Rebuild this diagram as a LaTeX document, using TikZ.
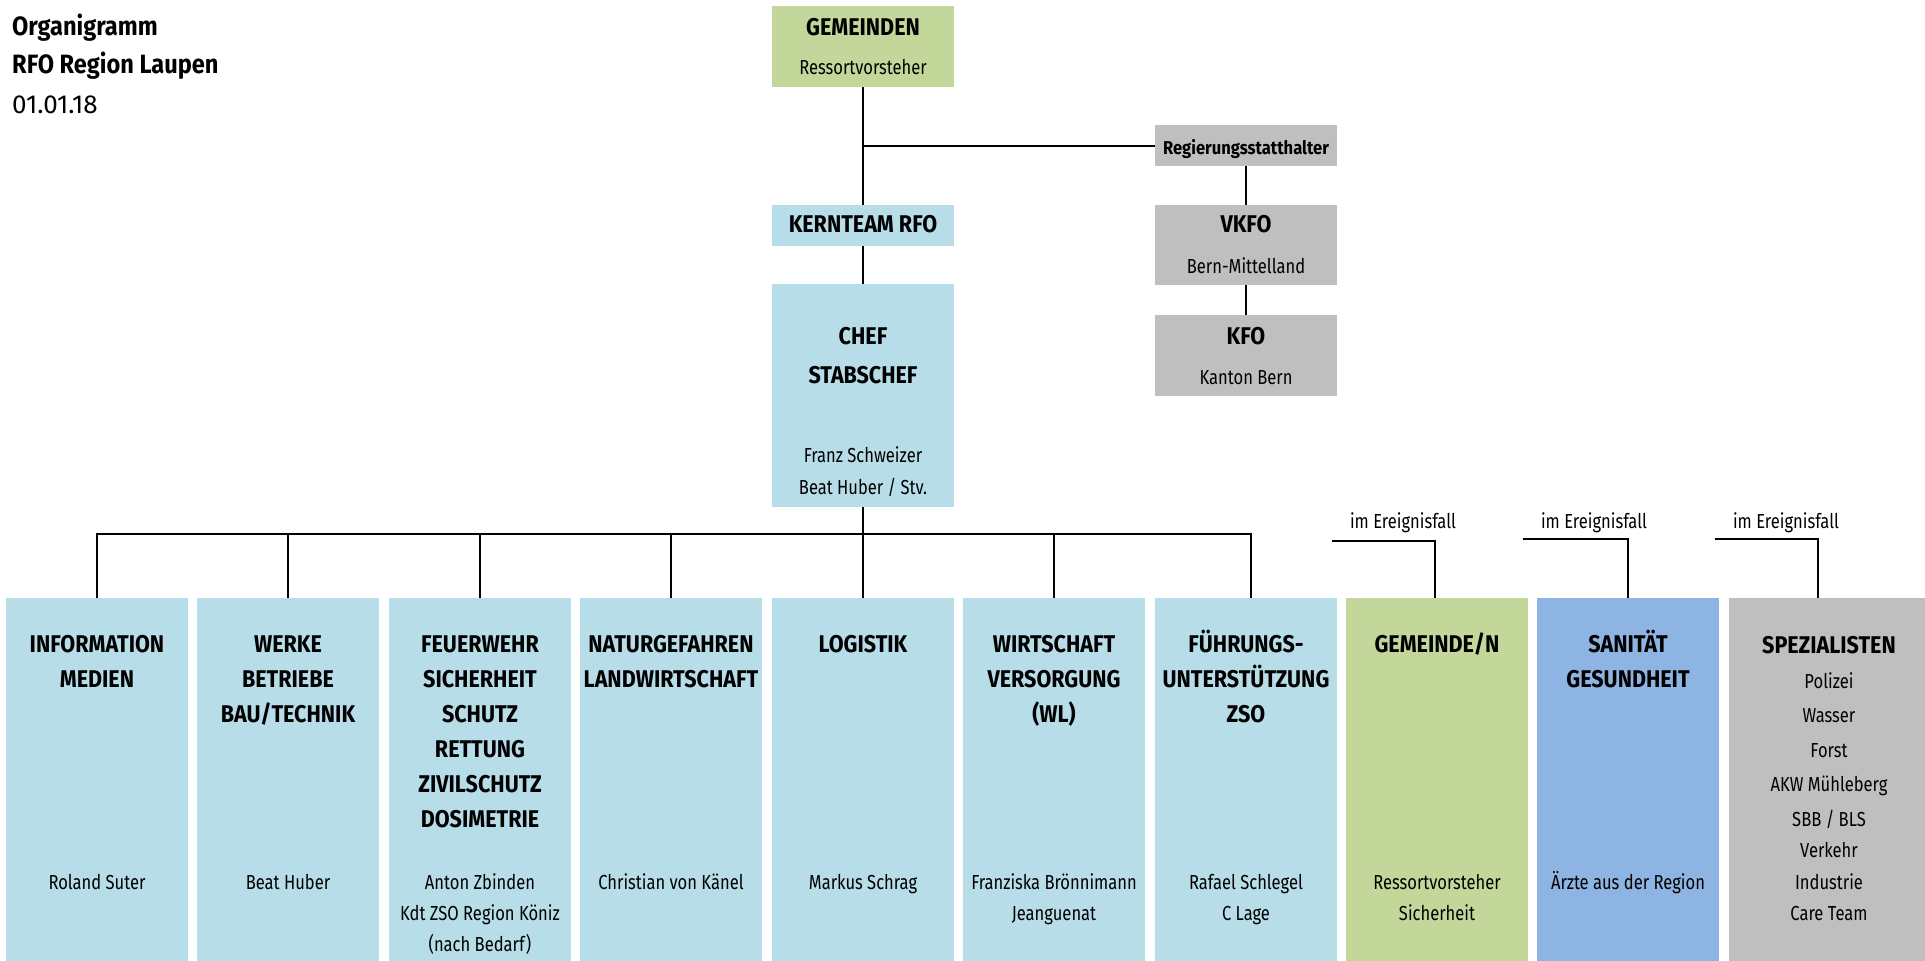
\documentclass[tikz,border=0pt]{standalone}
\usepackage{fontspec}
\setmainfont{Fira Sans}[FakeStretch=0.815]
\newfontfamily\hdfont{Fira Sans}[FakeStretch=0.89]
\newfontfamily\plainfont{Fira Sans}
\definecolor{cblue}{HTML}{B7DDE8}
\definecolor{cgreen}{HTML}{C4D79B}
\definecolor{cmid}{HTML}{8DB4E2}
\definecolor{cgray}{HTML}{BFBFBF}
\tikzset{
  orgbox/.style={rectangle, inner sep=0pt, outer sep=0pt, minimum width=182pt},
  hd/.style={anchor=base, align=center, inner sep=0pt, font=\hdfont\bfseries\fontsize{24.2}{35}\selectfont},
  nm/.style={anchor=base, align=center, inner sep=0pt, font=\fontsize{20.3}{31.3}\selectfont},
  conn/.style={line width=2pt, black},
}
\begin{document}
\begin{tikzpicture}[x=1pt, y=-1pt]
\useasboundingbox (0,0) rectangle (1925,961);
% title
\node[anchor=base west, inner sep=0pt, font=\hdfont\bfseries\fontsize{26.5}{30}\selectfont] (t1) at (12,35) {Organigramm};
\node[anchor=base west, inner sep=0pt, font=\hdfont\bfseries\fontsize{26.5}{30}\selectfont] (t2) at (12,73.3) {RFO Region Laupen};
\node[anchor=base west, inner sep=0pt, font=\plainfont\fontsize{26}{30}\selectfont] (t3) at (12,113.3) {01.01.18};
% top boxes
\node[orgbox, fill=cgreen, minimum height=81pt] (gem) at (863,46.5) {};
\node[hd] (gemh) at (863,35) {GEMEINDEN};
\node[nm] (gemn) at (863,74) {Ressortvorsteher};
\node[orgbox, fill=cblue, minimum height=41pt] (kern) at (863,225.5) {};
\node[hd] (kernh) at (863,232.7) {KERNTEAM RFO};
\node[orgbox, fill=cblue, minimum height=223pt] (chef) at (863,395.5) {};
\node[hd, font=\hdfont\bfseries\fontsize{24.2}{39.5}\selectfont] (chefh) at (863,383.5) {CHEF\\STABSCHEF};
\node[nm] (chefn) at (863,494) {Franz Schweizer\\Beat Huber / Stv.};
\node[orgbox, fill=cgray, minimum height=41pt] (reg) at (1246,145.5) {};
\node[hd, font=\hdfont\bfseries\fontsize{18.6}{24}\selectfont] (regh) at (1246,154) {Regierungsstatthalter};
\node[orgbox, fill=cgray, minimum height=80pt] (vkfo) at (1246,245) {};
\node[hd] (vkfoh) at (1246,232.7) {VKFO};
\node[nm] (vkfon) at (1246,273.3) {Bern-Mittelland};
\node[orgbox, fill=cgray, minimum height=81pt] (kfo) at (1246,355.5) {};
\node[hd] (kfoh) at (1246,344) {KFO};
\node[nm] (kfon) at (1246,384) {Kanton Bern};
% bottom boxes
\node[orgbox, fill=cblue, minimum height=363pt] (b1) at (97,779.5) {};
\node[orgbox, fill=cblue, minimum height=363pt] (b2) at (288,779.5) {};
\node[orgbox, fill=cblue, minimum height=363pt] (b3) at (480,779.5) {};
\node[orgbox, fill=cblue, minimum height=363pt] (b4) at (671,779.5) {};
\node[orgbox, fill=cblue, minimum height=363pt] (b5) at (863,779.5) {};
\node[orgbox, fill=cblue, minimum height=363pt] (b6) at (1054,779.5) {};
\node[orgbox, fill=cblue, minimum height=363pt] (b7) at (1246,779.5) {};
\node[orgbox, fill=cgreen, minimum height=363pt] (b8) at (1437,779.5) {};
\node[orgbox, fill=cmid, minimum height=363pt] (b9) at (1628,779.5) {};
\node[orgbox, fill=cgray, minimum height=363pt, minimum width=196pt] (b10) at (1827,779.5) {};
% bottom texts (anchor = baseline of last line)
\node[hd] (b1h) at (97,687.7) {INFORMATION\\MEDIEN};
\node[nm] (b1n) at (97,889) {Roland Suter};
\node[hd] (b2h) at (288,722.7) {WERKE\\BETRIEBE\\BAU/TECHNIK};
\node[nm] (b2n) at (288,889) {Beat Huber};
\node[hd] (b3h) at (480,827.7) {FEUERWEHR\\SICHERHEIT\\SCHUTZ\\RETTUNG\\ZIVILSCHUTZ\\DOSIMETRIE};
\node[nm] (b3n) at (480,951.6) {Anton Zbinden\\Kdt ZSO Region Köniz\\(nach Bedarf)};
\node[hd] (b4h) at (671,687.7) {NATURGEFAHREN\\LANDWIRTSCHAFT};
\node[nm] (b4n) at (671,889) {Christian von Känel};
\node[hd] (b5h) at (863,652.7) {LOGISTIK};
\node[nm] (b5n) at (863,889) {Markus Schrag};
\node[hd] (b6h) at (1054,722.7) {WIRTSCHAFT\\VERSORGUNG\\(WL)};
\node[nm] (b6n) at (1054,920.3) {Franziska Brönnimann\\Jeanguenat};
\node[hd] (b7h) at (1246,722.7) {FÜHRUNGS-\\UNTERSTÜTZUNG\\ZSO};
\node[nm] (b7n) at (1246,920.3) {Rafael Schlegel\\C Lage};
\node[hd] (b8h) at (1437,652.7) {GEMEINDE/N};
\node[nm] (b8n) at (1437,920.3) {Ressortvorsteher\\Sicherheit};
\node[hd] (b9h) at (1628,687.7) {SANITÄT\\GESUNDHEIT};
\node[nm] (b9n) at (1628,889) {Ärzte aus der Region};
\node[hd] (b10h) at (1829,653.3) {SPEZIALISTEN};
\node[nm, font=\fontsize{20.3}{34.4}\selectfont] (b10a) at (1829,826) {Polizei\\Wasser\\Forst\\AKW Mühleberg\\SBB / BLS};
\node[nm] (b10b) at (1829,920.3) {Verkehr\\Industrie\\Care Team};
% labels im Ereignisfall
\node[nm] (l8) at (1403,528.3) {im Ereignisfall};
\node[nm] (l9) at (1594,528.3) {im Ereignisfall};
\node[nm] (l10) at (1786,528.3) {im Ereignisfall};
% connectors top
\draw[conn] (gem.south) -- (kern.north);
\draw[conn] (gem.south |- reg.west) -- (reg.west);
\draw[conn] (reg.south) -- (vkfo.north);
\draw[conn] (vkfo.south) -- (kfo.north);
\draw[conn] (kern.south) -- (chef.north);
% bus
\coordinate (busl) at (97,534);
\coordinate (busr) at (1251,534);
\draw[conn] (chef.south) -- (chef.south |- busl);
\draw[conn] ([xshift=-1pt]busl) -- ([xshift=1pt]busr);
\foreach \b in {b1,b2,b3,b4,b5,b6}
  \draw[conn] (\b.north |- busl) -- (\b.north);
\draw[conn] (busr) -- (busr |- b7.north);
% im Ereignisfall connectors
\coordinate (e8) at (1332,541);
\coordinate (e9) at (1523,539);
\coordinate (e10) at (1715,539);
\draw[conn] (e8) -| ([xshift=-2pt]b8.north);
\draw[conn] (e9) -| (b9.north);
\draw[conn] (e10) -| ([xshift=-9pt]b10.north);
\end{tikzpicture}
\end{document}
